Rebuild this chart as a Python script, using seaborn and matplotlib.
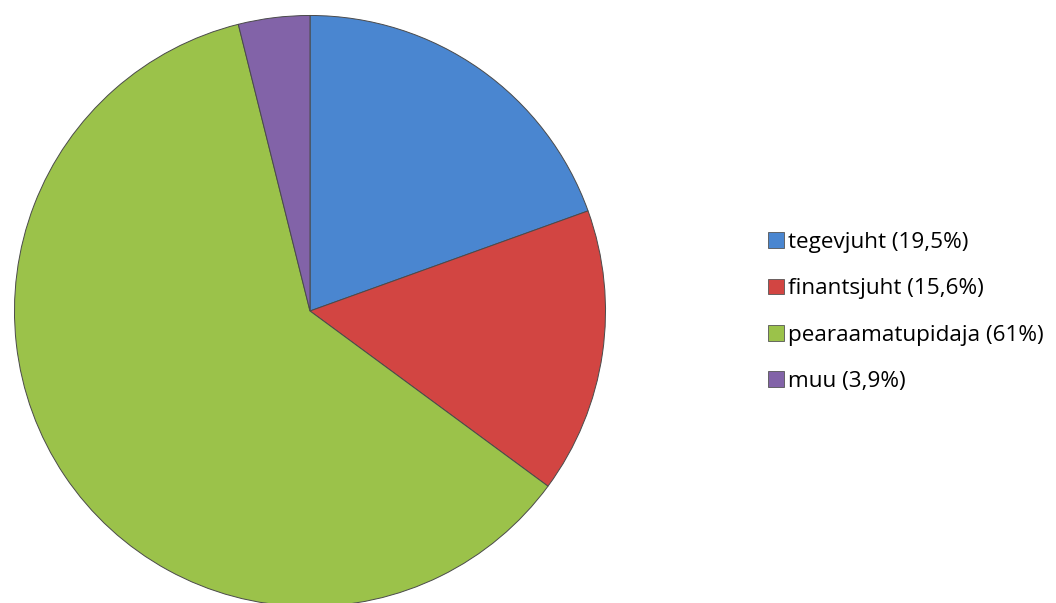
import matplotlib
matplotlib.use("Agg")
import matplotlib.pyplot as plt
from matplotlib.patches import Patch
import seaborn as sns

labels = ["tegevjuht (19,5%)", "finantsjuht (15,6%)", "pearaamatupidaja (61%)", "muu (3,9%)"]
shares = [19.5, 15.6, 61.0, 3.9]
colors = ["#4a86d0", "#d24542", "#9bc24a", "#8263a8"]

sns.set_theme(style="white")
plt.rcParams['font.family'] = ['Open Sans', 'DejaVu Sans']

W, H = 1056, 603
fig = plt.figure(figsize=(W / 100, H / 100), dpi=100)
cx, cy, r = 310, 311, 297
ax = fig.add_axes([(cx - r) / W, (H - cy - r) / H, 2 * r / W, 2 * r / H])

ax.pie(shares, colors=colors, startangle=90, counterclock=False, radius=1,
       wedgeprops=dict(edgecolor="#4a4a4a", linewidth=0.7))
ax.set_xlim(-1.005, 1.005)
ax.set_ylim(-1.005, 1.005)
ax.set_aspect("equal")
ax.axis("off")

handles = [Patch(facecolor=c, edgecolor="#555555", linewidth=0.6) for c in colors]
fig.legend(handles, labels, loc="center left", bbox_to_anchor=(759 / W, 1 - 312 / H),
           frameon=False, fontsize=16.2, handlelength=0.7, handleheight=0.7,
           handletextpad=0.2, labelspacing=1.12, borderaxespad=0,
           labelcolor="black")

fig.savefig("out.png", dpi=100)
